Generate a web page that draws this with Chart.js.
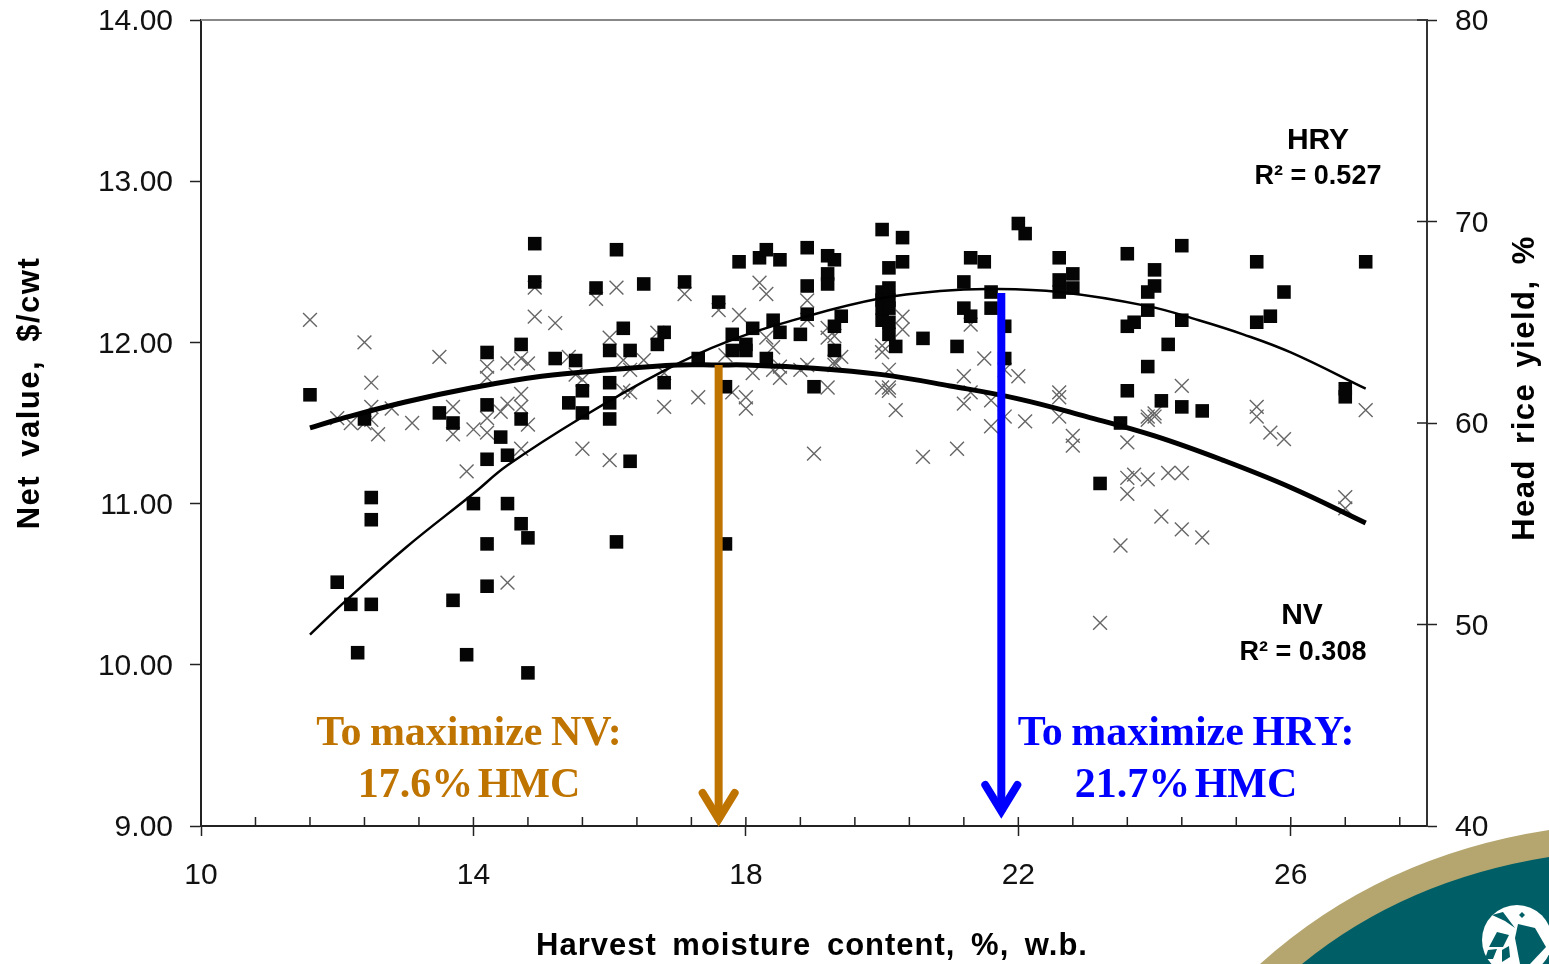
<!DOCTYPE html>
<html>
<head>
<meta charset="utf-8">
<title>Net value and head rice yield</title>
<script src="https://cdn.jsdelivr.net/npm/chart.js@4"></script>
<style>
  html, body { margin: 0; padding: 0; background: #fff; }
  canvas { display: block; }
</style>
</head>
<body>
<canvas id="nv_hry" width="1549" height="964"></canvas>
<script>
// Tick labels
var xTicks = [10, 14, 18, 22, 26];
var xMinorStep = 0.8;
var nvTicks = [9, 10, 11, 12, 13, 14];
var hryTicks = [40, 50, 60, 70, 80];

// Head rice yield, squares, right axis
var hryHmc = [11.6,12.0,12.2,12.3,12.4,12.5,12.5,12.5,13.5,13.7,13.7,13.9,14.0,14.2,14.2,14.2,14.2,14.2,14.4,14.5,14.5,14.7,14.7,14.7,14.8,14.8,14.9,14.9,15.2,15.4,15.5,15.6,15.6,15.8,16.0,16.0,16.0,16.0,16.1,16.1,16.2,16.3,16.3,16.5,16.7,16.8,16.8,17.1,17.3,17.6,17.7,17.7,17.8,17.8,17.9,18.0,18.0,18.1,18.2,18.3,18.3,18.4,18.5,18.5,18.8,18.9,18.9,18.9,19.0,19.2,19.2,19.2,19.3,19.3,19.3,19.4,20.0,20.0,20.0,20.0,20.0,20.1,20.1,20.1,20.1,20.1,20.1,20.2,20.3,20.3,20.6,21.1,21.2,21.2,21.3,21.3,21.5,21.6,21.6,21.8,21.8,22.0,22.1,22.6,22.6,22.6,22.8,22.8,23.2,23.5,23.6,23.6,23.6,23.7,23.9,23.9,23.9,24.0,24.0,24.1,24.2,24.4,24.4,24.4,24.7,25.5,25.5,25.7,25.9,26.8,26.8,27.1];
var hryValues = [61.4,52.1,51.0,48.6,60.2,56.3,55.2,51.0,60.5,60.0,51.2,48.5,56.0,63.5,60.9,58.2,54.0,51.9,59.3,58.4,56.0,63.9,60.2,55.0,54.3,47.6,68.9,67.0,63.2,61.0,63.1,61.6,60.5,66.7,63.6,62.0,61.0,60.2,68.6,54.1,64.7,63.6,58.1,66.9,63.9,64.5,62.0,67.0,63.2,66.0,61.8,54.0,64.4,63.6,68.0,63.9,63.6,64.7,68.2,68.6,63.2,65.1,64.5,68.1,64.4,68.7,66.8,65.4,61.8,68.3,67.4,66.9,68.1,64.8,63.6,65.3,69.6,66.5,66.1,65.7,65.1,67.7,66.7,66.1,65.7,65.0,64.4,63.8,69.2,68.0,64.2,63.8,67.0,65.7,68.2,65.3,68.0,66.5,65.7,64.8,63.2,69.9,69.4,68.2,67.1,66.5,67.4,66.7,57.0,60.0,68.4,64.8,61.6,65.0,66.5,65.6,62.8,67.6,66.8,61.1,63.9,68.8,65.1,60.8,60.6,65.0,68.0,65.3,66.5,61.7,61.3,68.0];

// Net value, crosses, left axis
var nvHmc = [11.6,12.4,12.5,12.0,12.2,12.4,12.5,12.5,12.6,12.8,13.1,13.5,13.7,13.7,14.0,14.2,14.2,14.2,14.2,14.4,14.5,14.5,14.7,14.8,14.7,14.7,14.8,14.7,13.9,14.9,14.9,15.2,15.8,16.1,17.1,16.0,16.7,15.4,15.5,15.6,16.2,16.3,16.5,16.2,16.3,16.8,17.3,15.6,16.0,16.8,17.6,17.7,17.9,17.8,14.5,18.2,18.3,18.9,18.9,19.2,19.2,19.3,18.3,18.4,20.0,20.0,20.3,20.3,21.3,21.5,22.0,21.8,20.1,19.3,19.3,19.4,18.9,18.5,18.5,18.1,18.4,18.8,19.2,20.0,20.1,20.1,20.2,21.2,21.2,21.3,21.6,21.8,21.6,22.1,22.6,22.6,22.6,22.8,22.8,23.6,19.0,20.6,21.1,18.0,18.0,23.9,23.9,24.0,24.0,24.4,23.7,23.6,23.6,23.9,24.2,24.4,23.5,24.1,24.4,24.7,25.5,25.5,25.7,25.9,27.1,26.8,26.8,23.2];
var nvValues = [12.14,12.00,11.75,11.53,11.50,11.50,11.60,11.52,11.43,11.59,11.50,11.91,11.60,11.43,11.46,11.85,11.78,11.53,11.44,11.57,11.62,11.87,11.90,11.87,11.68,11.60,11.49,11.34,11.20,12.34,12.16,12.12,12.27,12.34,12.30,12.03,12.06,11.91,11.80,11.77,11.89,11.83,11.89,11.70,11.69,11.60,11.66,11.34,11.27,11.81,12.20,11.92,12.17,11.69,10.51,12.37,12.30,12.26,12.14,12.09,12.03,12.04,12.03,11.97,11.98,11.94,12.16,12.08,12.11,11.90,11.79,11.83,11.83,11.88,11.86,11.91,11.86,11.85,11.78,11.81,11.83,11.83,11.72,11.72,11.72,11.70,11.58,11.79,11.62,11.69,11.64,11.54,11.48,11.51,11.69,11.66,11.54,11.42,11.36,11.38,11.31,11.29,11.34,11.66,11.59,11.52,11.54,11.54,11.56,11.73,11.18,11.16,11.06,11.15,11.19,11.19,10.74,10.92,10.84,10.79,11.60,11.54,11.44,11.40,11.58,11.04,10.97,10.26];

// Fitted curves
var nvCurveHmc = [11.6,12,13,14,15,16,17,17.6,18,19,20,21,22,23,24,25,26,27.1];
var nvCurveValues = [11.47,11.52,11.63,11.72,11.79,11.83,11.86,11.86,11.86,11.84,11.80,11.73,11.65,11.54,11.42,11.27,11.10,10.88];
var hryCurveHmc = [11.6,12.1,13,14,14.5,15.6,16.8,17.7,18.9,20,20.85,21.6,22.6,23.9,24.65,25.3,26,27.1];
var hryCurveValues = [49.5,51.1,53.8,56.5,57.9,60.3,62.6,64.0,65.3,66.2,66.55,66.65,66.5,65.8,65.1,64.4,63.5,61.7];

// Optimum arrows
var nvBestHmc = 17.6;
var nvBestValue = 11.86;
var hryBestHmc = 21.75;
var hryBestValue = 66.45;

function toPoints(xs, ys) {
  return xs.map(function (x, i) { return {x: x, y: ys[i]}; });
}

var tickFont = {family: '"Liberation Sans", Arial, sans-serif', size: 30};
var sans = '"Liberation Sans", Arial, sans-serif';

function text(ctx, str, x, y, font, color, spacing, wordGap) {
  ctx.font = font;
  ctx.fillStyle = color;
  ctx.textAlign = 'center';
  ctx.textBaseline = 'middle';
  ctx.letterSpacing = (spacing || 0) + 'px';
  ctx.wordSpacing = (wordGap || 0) + 'px';
  ctx.fillText(str, x, y);
  ctx.letterSpacing = '0px';
  ctx.wordSpacing = '0px';
}

function arrow(ctx, x, yTop, yTip, color) {
  ctx.strokeStyle = color;
  ctx.lineWidth = 8;
  ctx.lineCap = 'butt';
  ctx.beginPath();
  ctx.moveTo(x, yTop);
  ctx.lineTo(x, yTip - 6);
  ctx.stroke();
  ctx.lineWidth = 8;
  ctx.lineCap = 'round';
  ctx.lineJoin = 'miter';
  ctx.beginPath();
  ctx.moveTo(x - 16, yTip - 33);
  ctx.lineTo(x, yTip - 7);
  ctx.lineTo(x + 16, yTip - 33);
  ctx.stroke();
  ctx.lineCap = 'butt';
}

// Corner badge behind the chart
const badgePlugin = {
  id: 'badge',
  beforeDraw: function (chart) {
    var ctx = chart.ctx;
    ctx.save();
    ctx.fillStyle = '#fff';
    ctx.fillRect(0, 0, chart.width, chart.height);
    ctx.fillStyle = '#b5a670';
    ctx.beginPath();
    ctx.moveTo(1260, 964);
    ctx.quadraticCurveTo(1380, 856, 1549, 830);
    ctx.lineTo(1549, 964);
    ctx.closePath();
    ctx.fill();
    ctx.fillStyle = '#005f66';
    ctx.beginPath();
    ctx.moveTo(1302, 964);
    ctx.quadraticCurveTo(1405, 880, 1549, 857);
    ctx.lineTo(1549, 964);
    ctx.closePath();
    ctx.fill();
    ctx.fillStyle = '#fff';
    ctx.beginPath();
    ctx.arc(1517, 940, 35, 0, Math.PI * 2);
    ctx.fill();
    ctx.fillStyle = '#005f66';
    [
      [[1492,915],[1503,912],[1515,928],[1505,921]],
      [[1518,924],[1535,928],[1546,947],[1530,964],[1520,964],[1515,938]],
      [[1497,932],[1509,935],[1503,947],[1489,947]],
      [[1488,950],[1497,949],[1493,959],[1485,959]],
      [[1502,950],[1509,946],[1510,957],[1502,962]],
      [[1522,912],[1525,915],[1522,918],[1519,915]]
    ].forEach(function (poly) {
      ctx.beginPath();
      poly.forEach(function (p, i) { if (i) ctx.lineTo(p[0], p[1]); else ctx.moveTo(p[0], p[1]); });
      ctx.closePath();
      ctx.fill();
    });
    ctx.restore();
  }
};

// Minor ticks, inner tick parts, top border, axis titles, arrows and notes
const notesPlugin = {
  id: 'notes',
  afterDatasetsDraw: function (chart) {
    var ctx = chart.ctx, x = chart.scales.x, nv = chart.scales.nv, hry = chart.scales.hry;
    var a = chart.chartArea;
    ctx.save();

    ctx.strokeStyle = '#888';
    ctx.lineWidth = 2;
    ctx.beginPath();
    ctx.moveTo(a.left, a.top);
    ctx.lineTo(a.right, a.top);
    ctx.stroke();

    ctx.strokeStyle = '#222';
    ctx.lineWidth = 1.5;
    ctx.beginPath();
    for (var v = x.min; v < x.max; v += xMinorStep) {
      var px = x.getPixelForValue(v);
      ctx.moveTo(px, a.bottom);
      ctx.lineTo(px, a.bottom - 9);
    }
    hryTicks.forEach(function (t) {
      var py = hry.getPixelForValue(t);
      ctx.moveTo(a.right, py);
      ctx.lineTo(a.right - 10, py);
    });
    ctx.stroke();

    arrow(ctx, x.getPixelForValue(nvBestHmc), nv.getPixelForValue(nvBestValue), a.bottom, '#bf7400');
    arrow(ctx, x.getPixelForValue(hryBestHmc), hry.getPixelForValue(hryBestValue), a.bottom - 8, '#0000ff');

    var serif = 'bold 42px "Liberation Serif", "Times New Roman", serif';
    text(ctx, 'To maximize NV:', 469, 734, serif, '#bf7400', 0, -2);
    text(ctx, '17.6% HMC', 469, 786, serif, '#bf7400', 0, -6);
    text(ctx, 'To maximize HRY:', 1186, 734, serif, '#0000ff', 0, -2);
    text(ctx, '21.7% HMC', 1186, 786, serif, '#0000ff', 0, -6);

    var head = 'bold 30px ' + sans, note = 'bold 27px ' + sans;
    text(ctx, 'HRY', 1318, 141, head, '#000');
    text(ctx, 'R² = 0.527', 1318, 177, note, '#000');
    text(ctx, 'NV', 1302, 616, head, '#000');
    text(ctx, 'R² = 0.308', 1303, 653, note, '#000');

    var title = 'bold 31px ' + sans;
    text(ctx, 'Harvest moisture content, %, w.b.', 812, 946, title, '#000', 1, 6);

    ctx.save();
    ctx.translate(30, 393);
    ctx.rotate(-Math.PI / 2);
    text(ctx, 'Net value, $/cwt', 0, 0, title, '#000', 1.5, 8);
    ctx.restore();

    ctx.translate(1525, 388);
    ctx.rotate(-Math.PI / 2);
    text(ctx, 'Head rice yield, %', 0, 0, title, '#000', 1.5, 5);
    ctx.restore();
  }
};

// Fixed axis boxes, no extra room for the end labels
function fitY(width) {
  return function (scale) {
    scale.width = width;
    scale.paddingTop = 0;
    scale.paddingBottom = 0;
  };
}

const config_nv_hry = {
  type: 'scatter',
  data: {
    datasets: [
      {
        label: 'Head rice yield fit',
        type: 'line',
        data: toPoints(hryCurveHmc, hryCurveValues),
        yAxisID: 'hry',
        borderColor: '#000',
        borderWidth: 2.5,
        pointRadius: 0,
        tension: 0.4,
        fill: false,
        order: 2
      },
      {
        label: 'Net value fit',
        type: 'line',
        data: toPoints(nvCurveHmc, nvCurveValues),
        yAxisID: 'nv',
        borderColor: '#000',
        borderWidth: 5,
        pointRadius: 0,
        tension: 0.4,
        fill: false,
        order: 1
      },
      {
        label: 'Head rice yield',
        data: toPoints(hryHmc, hryValues),
        yAxisID: 'hry',
        pointStyle: 'rect',
        pointRadius: 9.6,
        backgroundColor: '#050505',
        borderColor: '#050505',
        borderWidth: 0,
        order: 3
      },
      {
        label: 'Net value',
        data: toPoints(nvHmc, nvValues),
        yAxisID: 'nv',
        pointStyle: 'crossRot',
        pointRadius: 9.8,
        borderColor: '#666',
        borderWidth: 1.4,
        backgroundColor: 'transparent',
        order: 4
      }
    ]
  },
  options: {
    responsive: false,
    animation: false,
    layout: {padding: {top: 20, left: 0, right: 0, bottom: 0}},
    plugins: {legend: {display: false}, tooltip: {enabled: false}},
    scales: {
      x: {
        type: 'linear',
        min: 10,
        max: 28,
        afterBuildTicks: function (scale) { scale.ticks = xTicks.map(function (v) { return {value: v}; }); },
        afterFit: function (scale) { scale.height = 138; scale.paddingLeft = 0; scale.paddingRight = 0; },
        grid: {drawOnChartArea: false, tickLength: 10, tickColor: '#222', tickWidth: 1.5},
        border: {color: '#222', width: 2},
        ticks: {font: tickFont, color: '#111', padding: 22, maxRotation: 0, autoSkip: false}
      },
      nv: {
        type: 'linear',
        position: 'left',
        min: 9,
        max: 14,
        afterBuildTicks: function (scale) { scale.ticks = nvTicks.map(function (v) { return {value: v}; }); },
        afterFit: fitY(201),
        grid: {drawOnChartArea: false, tickLength: 11, tickColor: '#222', tickWidth: 1.5},
        border: {color: '#222', width: 2},
        ticks: {font: tickFont, color: '#111', padding: 17, labelOffset: 2, callback: function (v) { return v.toFixed(2); }}
      },
      hry: {
        type: 'linear',
        position: 'right',
        min: 40,
        max: 80,
        afterBuildTicks: function (scale) { scale.ticks = hryTicks.map(function (v) { return {value: v}; }); },
        afterFit: fitY(122),
        grid: {drawOnChartArea: false, tickLength: 10, tickColor: '#222', tickWidth: 1.5},
        border: {color: '#333', width: 2},
        ticks: {font: tickFont, color: '#111', padding: 18, labelOffset: 2}
      }
    }
  },
  plugins: [badgePlugin, notesPlugin]
};

const nv_hry_Chart = new Chart(document.getElementById('nv_hry'), config_nv_hry);
</script>
</body>
</html>
